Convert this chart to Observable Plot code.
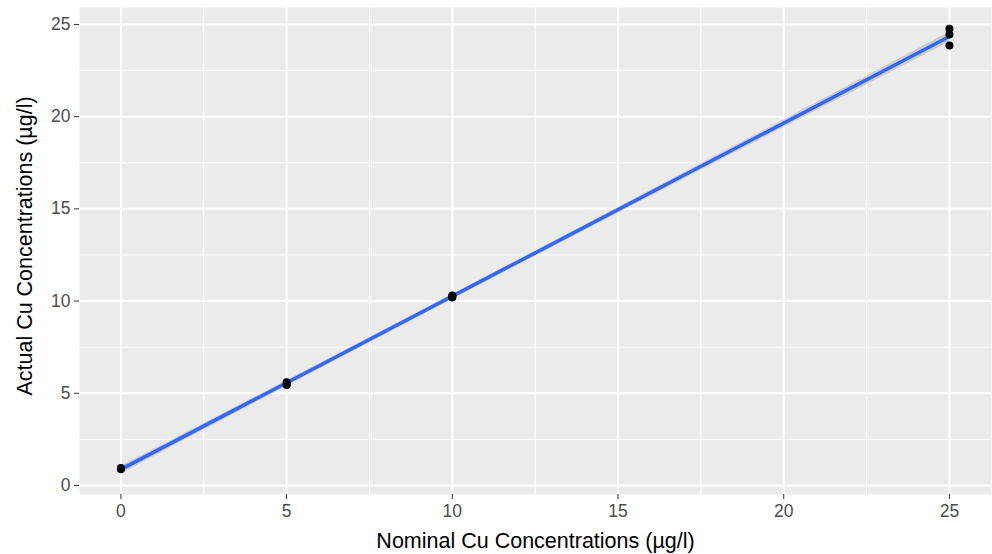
<!DOCTYPE html>
<html><head><meta charset="utf-8">
<script src="https://cdn.jsdelivr.net/npm/d3@7"></script>
<script src="https://cdn.jsdelivr.net/npm/@observablehq/plot@0.6"></script>
<style>body{margin:0;background:#fff;font-family:"Liberation Sans",Arial,sans-serif}</style>
</head><body><div id="chart"></div>
<script>
const nominal = [0, 0, 0, 5, 5, 5, 10, 10, 10, 25, 25, 25];
const actual = [0.88, 0.95, 0.92, 5.45, 5.6, 5.5, 10.25, 10.3, 10.2, 24.77, 24.46, 23.86];
const xTicks = [0, 5, 10, 15, 20, 25];
const yTicks = [0, 5, 10, 15, 20, 25];
const xMinor = [2.5, 7.5, 12.5, 17.5, 22.5];
const yMinor = [2.5, 7.5, 12.5, 17.5, 22.5];
const xTitle = "Nominal Cu Concentrations (µg/l)";
const yTitle = "Actual Cu Concentrations (µg/l)";

const data = nominal.map((x, i) => ({x, y: actual[i]}));

const chart = Plot.plot({
  width: 992, height: 554,
  marginLeft: 79, marginRight: 1, marginTop: 7, marginBottom: 60,
  style: {fontFamily: '"Liberation Sans", Arial, sans-serif', background: "#fff"},
  x: {domain: [-1.25, 26.27]},
  y: {domain: [-0.49, 25.92]},
  marks: [
    Plot.frame({fill: "#EBEBEB", stroke: null}),
    Plot.gridX(xMinor, {stroke: "#fff", strokeOpacity: 1, strokeWidth: 1}),
    Plot.gridY(yMinor, {stroke: "#fff", strokeOpacity: 1, strokeWidth: 1}),
    Plot.gridX(xTicks, {stroke: "#fff", strokeOpacity: 1, strokeWidth: 2}),
    Plot.gridY(yTicks, {stroke: "#fff", strokeOpacity: 1, strokeWidth: 2}),
    Plot.linearRegressionY(data, {x: "x", y: "y", stroke: "#3366FF", strokeWidth: 3.5, fill: "#999", fillOpacity: 0.4}),
    Plot.dot(data, {x: "x", y: "y", r: 4, fill: "#000", stroke: null}),
    Plot.axisX(xTicks, {tickSize: 5, tickPadding: 5, fontSize: 17.5, color: "#4D4D4D", stroke: "#333", label: null}),
    Plot.axisY(yTicks, {tickSize: 5, tickPadding: 4, fontSize: 17.5, color: "#4D4D4D", stroke: "#333", label: null}),
    Plot.text([xTitle], {frameAnchor: "bottom", lineAnchor: "middle", textAnchor: "middle", dy: 47, fontSize: 21.5, fill: "#000", text: d => d}),
    Plot.text([yTitle], {frameAnchor: "left", lineAnchor: "middle", textAnchor: "middle", dx: -54, dy: -5, rotate: -90, fontSize: 21.5, fill: "#000", text: d => d})
  ]
});
document.getElementById("chart").appendChild(chart);
</script></body></html>
